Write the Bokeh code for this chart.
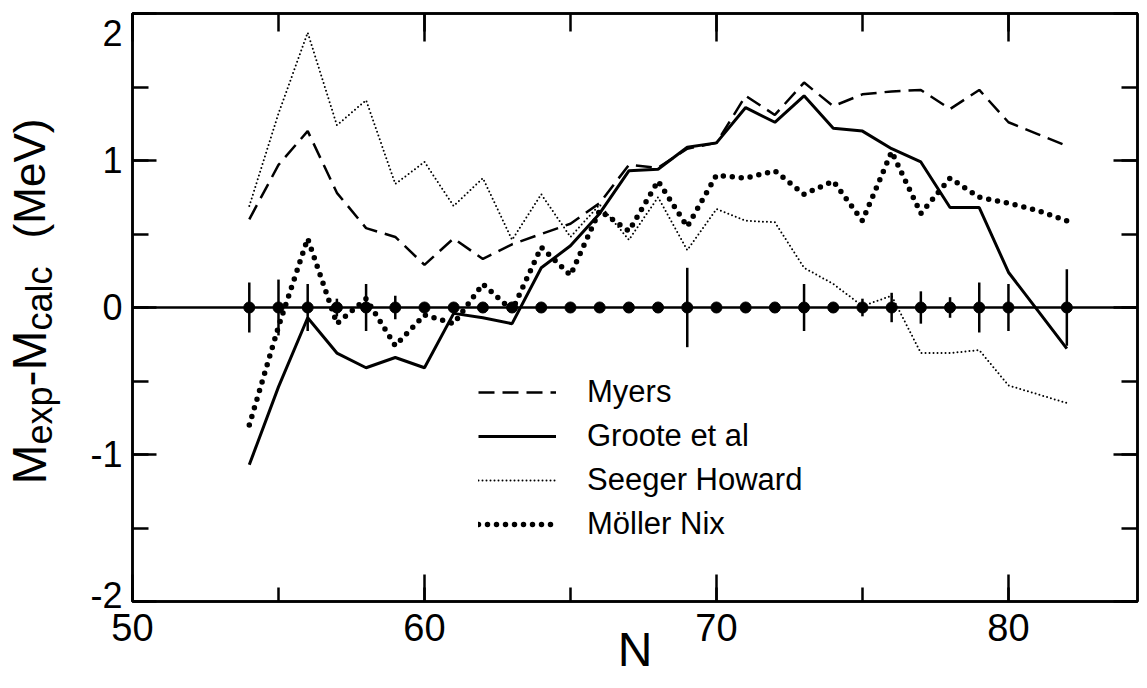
from math import pi
from bokeh.plotting import figure
from bokeh.layouts import row
from bokeh.models import (LinearAxis, SingleIntervalTicker, Span, Label, Legend,
                          LegendItem, Range1d, ColumnDataSource)
from bokeh.embed import file_html
from bokeh.resources import INLINE

# ---------------- data ----------------
N = list(range(54, 83))
myers = [0.60, 0.97, 1.20, 0.78, 0.54, 0.48, 0.29, 0.47, 0.33, 0.43,
         0.50, 0.57, 0.71, 0.97, 0.95, 1.08, 1.12, 1.44, 1.31, 1.53,
         1.37, 1.45, 1.47, 1.48, 1.35, 1.48, 1.26, 1.18, 1.10]
groote = [-1.07, -0.54, -0.07, -0.31, -0.41, -0.34, -0.41, -0.04, -0.07, -0.11,
          0.27, 0.42, 0.64, 0.93, 0.94, 1.09, 1.12, 1.36, 1.26, 1.44,
          1.22, 1.20, 1.08, 0.99, 0.68, 0.68, 0.24, -0.02, -0.28]
seeger = [0.69, 1.32, 1.87, 1.24, 1.41, 0.84, 0.99, 0.69, 0.88, 0.46,
          0.77, 0.48, 0.70, 0.46, 0.75, 0.39, 0.67, 0.59, 0.58, 0.27,
          0.16, 0.01, 0.08, -0.31, -0.31, -0.29, -0.53, -0.59, -0.65]
moller = [-0.80, -0.13, 0.47, -0.11, 0.06, -0.26, -0.05, -0.11, 0.16, -0.02,
          0.41, 0.22, 0.66, 0.52, 0.86, 0.55, 0.90, 0.88, 0.93, 0.77,
          0.86, 0.59, 1.06, 0.64, 0.88, 0.75, 0.71, 0.66, 0.59]
err_N = [54, 55, 56, 57, 58, 59, 60, 61, 62, 63, 64, 65, 66, 67, 68, 69, 70,
         71, 72, 73, 74, 75, 76, 77, 78, 79, 80, 82]
err_val = [0.17, 0.19, 0.16, 0.06, 0.16, 0.08, 0.0, 0.0, 0.0, 0.0, 0.0, 0.0,
           0.0, 0.0, 0.0, 0.27, 0.0, 0.0, 0.0, 0.16, 0.0, 0.06, 0.10, 0.11,
           0.07, 0.17, 0.16, 0.26]
series_names = ["Myers", "Groote et al", "Seeger Howard", "Möller Nix"]
y_tick_text = {2: "\n2", 1: "1", 0: "0", -1: "-1", -2: "-2\n"}
x_title = "N"
y_title_parts = ["M", "exp", "-M", "calc", "(MeV)"]

FONT = "Liberation Sans"
LEFT_W = 80
FRAME_TOP, FRAME_BOTTOM, H = 13, 601, 680

p = figure(width=1139 - LEFT_W, height=H, x_range=Range1d(50, 84.42), y_range=Range1d(-2, 2),
           output_backend="svg", toolbar_location=None,
           min_border_left=132 - LEFT_W, min_border_right=2, min_border_top=FRAME_TOP,
           min_border_bottom=H - FRAME_BOTTOM, x_axis_location=None, y_axis_location=None)
p.grid.visible = False
p.outline_line_color = "black"
p.outline_line_width = 2.5


def style_axis(ax, major_in, minor_in, labels=True, size="38px", standoff=14):
    ax.axis_line_width = 2.5
    ax.axis_line_color = "black"
    ax.major_tick_line_width = 2.5
    ax.minor_tick_line_width = 2.5
    ax.major_tick_in = major_in
    ax.major_tick_out = 0
    ax.minor_tick_in = minor_in
    ax.minor_tick_out = 0
    if labels:
        ax.major_label_text_font = FONT
        ax.major_label_text_font_size = size
        ax.major_label_text_color = "black"
        ax.major_label_standoff = standoff
    else:
        ax.major_label_text_font_size = "1px"
        ax.major_label_text_color = None
        ax.major_label_standoff = 0


xb = LinearAxis(ticker=SingleIntervalTicker(interval=10, num_minor_ticks=2))
style_axis(xb, 27, 14, True, "38px", 12)
xb.axis_label = x_title
xb.axis_label_text_font = FONT
xb.axis_label_text_font_size = "48px"
xb.axis_label_text_font_style = "normal"
xb.axis_label_text_color = "black"
xb.axis_label_standoff = -21
p.add_layout(xb, "below")
xt = LinearAxis(ticker=SingleIntervalTicker(interval=10, num_minor_ticks=2))
style_axis(xt, 28, 18, False)
p.add_layout(xt, "above")
yl = LinearAxis(ticker=SingleIntervalTicker(interval=1, num_minor_ticks=2))
style_axis(yl, 24, 16, True, "36px", 10)
yl.major_label_overrides = y_tick_text
yl.major_label_text_line_height = 0.3
p.add_layout(yl, "left")
yr = LinearAxis(ticker=SingleIntervalTicker(interval=1, num_minor_ticks=2))
style_axis(yr, 24, 16, False)
p.add_layout(yr, "right")

p.add_layout(Span(location=0, dimension="width", line_color="black", line_width=2.5))

src = ColumnDataSource(dict(N=N, myers=myers, groote=groote, seeger=seeger, moller=moller))
r_myers = p.line("N", "myers", source=src, line_color="black", line_width=2.5, line_dash="16 8")
r_groote = p.line("N", "groote", source=src, line_color="black", line_width=3)
r_seeger = p.line("N", "seeger", source=src, line_color="black", line_width=2,
                  line_dash="0 4", line_cap="round")
r_moller = p.line("N", "moller", source=src, line_color="black", line_width=5.5,
                  line_dash="0 9", line_cap="round")

esrc = ColumnDataSource(dict(N=err_N, zero=[0.0] * len(err_N),
                             lo=[-e for e in err_val], hi=err_val))
p.segment(x0="N", y0="lo", x1="N", y1="hi", source=esrc, line_color="black", line_width=2.5)
p.scatter("N", "zero", source=esrc, size=11, color="black")

legend = Legend(items=[LegendItem(label=series_names[0], renderers=[r_myers]),
                       LegendItem(label=series_names[1], renderers=[r_groote]),
                       LegendItem(label=series_names[2], renderers=[r_seeger]),
                       LegendItem(label=series_names[3], renderers=[r_moller])],
                location=(346, 55), orientation="vertical", glyph_width=78, glyph_height=44,
                label_height=44, label_standoff=31, spacing=0, padding=0, margin=0,
                border_line_color=None, background_fill_alpha=0,
                label_text_font=FONT, label_text_font_size="31px",
                label_text_color="black")
p.add_layout(legend)

# ---- left strip holding the y-axis title (with subscripts) ----
# its frame is aligned with the main frame (rows align frames), so map the
# y range to pixel rows measured from the top of the page: value = H - y_px
fy = figure(width=LEFT_W, height=H, x_range=Range1d(0, LEFT_W),
            y_range=Range1d(H - FRAME_BOTTOM, H - FRAME_TOP),
            output_backend="svg", toolbar_location=None, min_border=0,
            min_border_top=FRAME_TOP, min_border_bottom=H - FRAME_BOTTOM,
            x_axis_location=None, y_axis_location=None)
fy.grid.visible = False
fy.outline_line_color = None
# (text, font size, centre x, centre y measured from top)
ylab = [(y_title_parts[0], "48px", 29, 464), (y_title_parts[1], "36px", 39, 415),
        (y_title_parts[2], "48px", 29, 358), (y_title_parts[3], "36px", 39, 298),
        (y_title_parts[4], "44px", 29, 178)]
for txt, fs, cx, cy in ylab:
    fy.add_layout(Label(x=cx, y=H - cy, text=txt, angle=pi / 2,
                        text_font=FONT, text_font_size=fs, text_align="center",
                        text_baseline="middle", text_color="black"))

layout = row(fy, p)
open("out.html", "w").write(file_html(layout, INLINE))
